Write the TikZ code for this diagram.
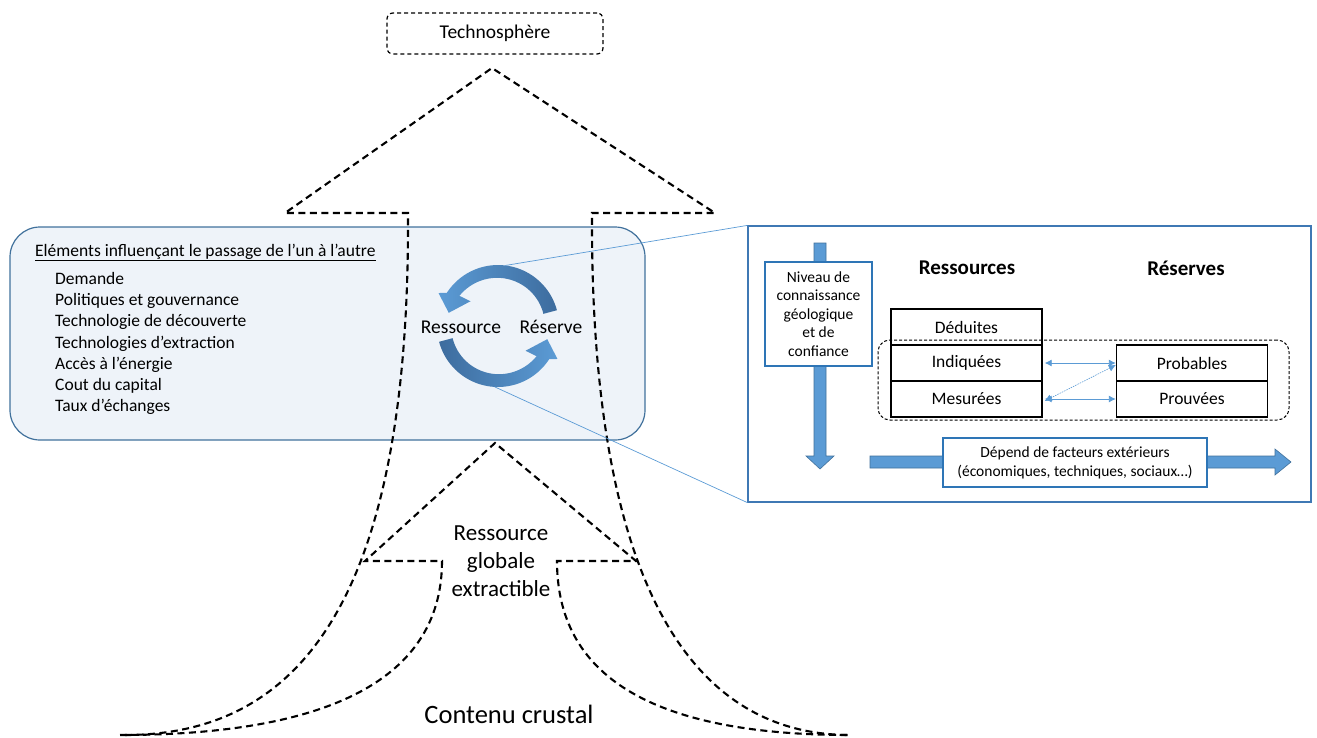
\documentclass[tikz,border=0pt]{standalone}
\usepackage{fontspec}
\setmainfont{Carlito}
\usetikzlibrary{arrows.meta}
\definecolor{panelblue}{HTML}{41719C}
\definecolor{panelfill}{HTML}{EEF3F9}
\definecolor{zoomblue}{HTML}{3F78B4}
\definecolor{boxblue}{HTML}{2E75B6}
\definecolor{lightarrow}{HTML}{5B9BD5}
\definecolor{darkarrow}{HTML}{3D6C9E}
\newcommand\setfs[2]{\fontsize{#1}{#2}\selectfont}
\begin{document}
\begin{tikzpicture}[x=1pt,y=-1pt,
  sketch/.style={line width=2.1pt, dash pattern=on 7pt off 4.5pt},
  plain/.style={inner sep=0pt},
  listitem/.style={inner sep=0pt, anchor=base west, font=\setfs{17.5}{21}},
  catbox/.style={draw, line width=1.4pt, minimum width=151, minimum height=36, inner sep=0pt, font=\setfs{17.5}{21}},
  bluebox/.style={draw=boxblue, fill=white, line width=1.2pt, align=center, inner sep=0pt},
  link/.style={draw=lightarrow, line width=0.7pt},
  biarrow/.style={draw=lightarrow, line width=0.9pt, {Latex[length=7pt,width=7pt]}-{Latex[length=7pt,width=7pt]}},
  fatarrow/.style={fill=lightarrow, draw=panelblue, line width=0.6pt}]
\useasboundingbox (0,0) rectangle (1317,737);

% influence panel
\node[draw=panelblue, fill=panelfill, line width=1.2pt, rounded corners=30, minimum width=635, minimum height=213, plain] (infl) at (327.5,333.5) {};

% funnel outlines
\draw[sketch] (125,735) .. controls (300,735) and (410,600) .. (408,213) -- (285,213) -- (492,68) -- (715,213) -- (592,213) .. controls (590,600) and (700,735) .. (850,735);
\draw[sketch] (120,735) .. controls (345,735) and (442,670) .. (442,561) -- (365,561) -- (495,443) -- (636,561) -- (557,561) .. controls (557,675) and (650,735) .. (850,735);

% top label
\node[draw, rounded corners=6, line width=1.2pt, dash pattern=on 4pt off 3pt, minimum width=216, minimum height=41, plain, font=\setfs{19.5}{23}] (tech) at (495,33.5) {Technosphère};

% panel texts
\node[listitem] (title) at (35,256) {\underline{Eléments influençant le passage de l’un à l’autre}};
\foreach \t [count=\i] in {Demande, Politiques et gouvernance, Technologie de découverte, Technologies d’extraction, Accès à l’énergie, Cout du capital, Taux d’échanges}
  \node[listitem] (item\i) at (55,{284.5+21.2*(\i-1)}) {\t};

% circular arrows
\begin{scope}[shift={(498,326)}, yscale=-1]
  \shade[left color=lightarrow, right color=darkarrow]
    (15:61) -- plot[domain=15:147, samples=40] (\x:61) -- (151:68) -- (165:51) -- (138:37) -- (142:49)
    -- plot[domain=142:15, samples=40] (\x:{47+2*(\x-15)/127}) -- cycle;
  \shade[left color=darkarrow, right color=lightarrow]
    (195:61) -- plot[domain=195:327, samples=40] (\x:61) -- (331:68) -- (345:51) -- (318:37) -- (322:49)
    -- plot[domain=322:195, samples=40] (\x:{47+2*(\x-195)/127}) -- cycle;
  \coordinate (cyctop) at (83:61);
  \coordinate (cycbot) at (267:61);
\end{scope}
\node[plain, font=\setfs{19.5}{23}] (res) at (461,327) {Ressource};
\node[plain, font=\setfs{19.5}{23}] (rsv) at (551,327) {Réserve};

% detail panel
\node[draw=zoomblue, fill=white, line width=1.2pt, minimum width=563, minimum height=276, plain] (detail) at (1029.5,364) {};
\draw[link] (cyctop) -- (detail.north west);
\draw[link] (cycbot) -- (detail.south west);

% knowledge arrow
\path[fatarrow] (814,243) -- (826,243) -- (826,456) -- (834,456) -- (820,469) -- (806,456) -- (814,456) -- cycle;
\node[bluebox, minimum width=107, minimum height=104, font=\setfs{15.5}{18.6}] (niveau) at (818.5,314) {Niveau de\\connaissance\\géologique\\et de\\confiance};

% external factors arrow
\path[fatarrow] (870,456) -- (1275,456) -- (1275,449) -- (1291,462) -- (1275,475) -- (1275,468) -- (870,468) -- cycle;
\node[bluebox, minimum width=264, minimum height=49, font=\setfs{15.5}{19}] (dep) at (1075,462.5) {Dépend de facteurs extérieurs\\(économiques, techniques, sociaux…)};

% headings
\node[plain, font=\bfseries\setfs{21}{25}] (hres) at (967,268) {Ressources};
\node[plain, font=\bfseries\setfs{21}{25}] (hrsv) at (1186,268) {Réserves};

% group outline
\node[draw, rounded corners=12, line width=1pt, dash pattern=on 3pt off 2pt, minimum width=411, minimum height=80, plain] (grp) at (1083.5,380) {};

% categories
\node[catbox] (ded) at (966.5,327) {Déduites};
\node[catbox] (ind) at (966.5,363) {Indiquées};
\node[catbox] (mes) at (966.5,399) {Mesurées};
\node[catbox] (prob) at (1192,363) {Probables};
\node[catbox] (prouv) at (1192,399) {Prouvées};

\draw[biarrow] ([xshift=2pt]ind.east) -- (prob.west);
\draw[biarrow] ([xshift=2pt]mes.east) -- (prouv.west);
\draw[biarrow, line width=0.6pt, dash pattern=on 1.5pt off 1pt] ([xshift=2pt,yshift=-2pt]mes.east) -- ([yshift=-2pt]prob.west);

% lower labels
\node[plain, align=center, font=\setfs{23}{28}] (glob) at (501,561) {Ressource\\globale\\extractible};
\node[plain, font=\setfs{26.5}{30}] (crust) at (509,714) {Contenu crustal};
\end{tikzpicture}
\end{document}
